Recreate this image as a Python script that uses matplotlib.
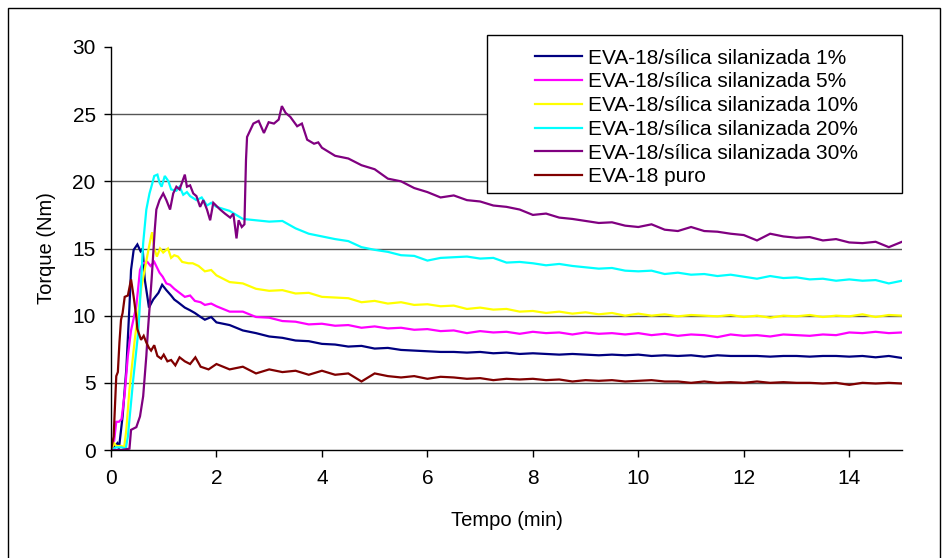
import numpy as np
import matplotlib
matplotlib.use("Agg")
import matplotlib.pyplot as plt
from matplotlib.patches import Rectangle

plt.rcParams['font.family'] = ['Liberation Sans', 'DejaVu Sans']

# --- data (time in min, torque in Nm) ---
labels = ['EVA-18/sílica silanizada 1%', 'EVA-18/sílica silanizada 5%',
          'EVA-18/sílica silanizada 10%', 'EVA-18/sílica silanizada 20%',
          'EVA-18/sílica silanizada 30%', 'EVA-18 puro']
colors = ['#000080', '#FF00FF', '#FFFF00', '#00FFFF', '#800080', '#800000']

# first minutes, each series on its own time points
t_s1 = [0, 0.05, 0.12, 0.15, 0.22, 0.29, 0.35, 0.38, 0.43, 0.5,
        0.56, 0.6, 0.64, 0.69, 0.72, 0.8, 0.9, 0.97, 1.05, 1.14,
        1.2, 1.27, 1.4, 1.5, 1.59, 1.7, 1.78, 1.9,
        2.0, 2.25, 2.5, 2.75, 3.0, 3.25, 3.5, 3.75]
v_s1 = [0, 0.2, 0.5, 0.1, 2.5, 6.0, 10.7, 13.4, 14.9, 15.3,
        14.8, 15.0, 12.7, 11.4, 10.6, 11.2, 11.7, 12.3, 11.9, 11.5,
        11.2, 11.0, 10.6, 10.4, 10.2, 9.9, 9.7, 9.9,
        9.5, 9.3, 8.9, 8.7, 8.45, 8.35, 8.15, 8.1]

t_s5 = [0, 0.06, 0.1, 0.15, 0.2, 0.26, 0.32, 0.38, 0.43, 0.48,
        0.55, 0.6, 0.69, 0.75, 0.82, 0.92, 0.98, 1.05, 1.12, 1.2,
        1.3, 1.4, 1.5, 1.59, 1.7, 1.78, 1.9,
        2.0, 2.25, 2.5, 2.75, 3.0, 3.25, 3.5, 3.75]
v_s5 = [0, 0.7, 2.1, 2.1, 2.3, 4.2, 7.0, 8.9, 9.8, 10.7,
        13.4, 13.9, 14.0, 13.7, 14.0, 13.2, 12.9, 12.4, 12.3, 12.0,
        11.7, 11.4, 11.5, 11.1, 11.0, 10.8, 10.9,
        10.7, 10.3, 10.3, 9.9, 9.85, 9.6, 9.55, 9.35]

t_s10 = [0, 0.06, 0.1, 0.2, 0.25, 0.29, 0.35, 0.45, 0.58, 0.7,
         0.76, 0.78, 0.82, 0.87, 0.93, 0.99, 1.08, 1.14, 1.2, 1.27,
         1.35, 1.47, 1.55, 1.66, 1.78, 1.9,
         2.0, 2.25, 2.5, 2.75, 3.0, 3.25, 3.5, 3.75]
v_s10 = [0, 0.5, 0.3, 0.3, 0.2, 1.5, 4.5, 8.2, 12.2, 14.7,
         15.9, 16.2, 15.0, 14.4, 15.0, 14.7, 15.0, 14.3, 14.5, 14.4,
         14.0, 13.9, 13.9, 13.7, 13.3, 13.4,
         13.0, 12.5, 12.4, 12.0, 11.85, 11.9, 11.65, 11.7]

t_s20 = [0, 0.1, 0.2, 0.28, 0.32, 0.42, 0.52, 0.58, 0.61, 0.67,
         0.73, 0.78, 0.82, 0.88, 0.92, 0.96, 1.02, 1.09, 1.14, 1.24,
         1.3, 1.37, 1.44, 1.5, 1.62, 1.72, 1.82, 1.9,
         2.0, 2.25, 2.5, 2.75, 3.0, 3.25, 3.5, 3.75]
v_s20 = [0, 0.2, 0.2, 0.1, 1.0, 5.2, 8.9, 13.2, 15.4, 17.9,
         19.1, 19.8, 20.4, 20.5, 19.9, 19.6, 20.4, 20.0, 19.4, 19.3,
         19.6, 19.0, 19.2, 18.9, 18.6, 18.8, 18.2, 18.4,
         18.1, 17.8, 17.2, 17.1, 17.0, 17.05, 16.5, 16.1]

t_s30 = [0, 0.2, 0.35, 0.38, 0.48, 0.55, 0.61, 0.67, 0.7, 0.77,
         0.83, 0.86, 0.92, 0.99, 1.05, 1.12, 1.18, 1.24, 1.3, 1.4,
         1.44, 1.5, 1.56, 1.62, 1.69, 1.75, 1.82, 1.88, 1.94,
         2.07, 2.16, 2.26, 2.32, 2.38, 2.42, 2.48, 2.53, 2.56, 2.58,
         2.64, 2.7, 2.8, 2.9, 2.99, 3.09, 3.18, 3.24, 3.31, 3.4,
         3.53, 3.62, 3.72, 3.85, 3.93]
v_s30 = [0, 0, 0.1, 1.5, 1.7, 2.5, 4.0, 7.0, 8.9, 12.7,
         16.4, 17.9, 18.6, 19.1, 18.6, 17.9, 19.1, 19.6, 19.4, 20.5,
         19.6, 19.7, 19.1, 18.9, 18.1, 18.6, 17.9, 17.1, 18.4,
         17.9, 17.6, 17.3, 17.6, 15.75, 17.1, 16.6, 16.8, 21.6, 23.3,
         23.8, 24.3, 24.5, 23.6, 24.4, 24.3, 24.6, 25.6, 25.1, 24.8,
         24.1, 24.3, 23.1, 22.8, 22.9]

t_puro = [0, 0.05, 0.1, 0.13, 0.16, 0.19, 0.22, 0.26, 0.32, 0.38,
          0.43, 0.48, 0.5, 0.57, 0.62, 0.67, 0.72, 0.76, 0.82, 0.88,
          0.95, 1.0, 1.07, 1.14, 1.22, 1.3, 1.4, 1.5, 1.6, 1.7,
          1.85, 2.0, 2.25, 2.5, 2.75, 3.0, 3.25, 3.5, 3.75]
v_puro = [0, 1.0, 5.5, 5.8, 8.0, 9.7, 10.2, 11.4, 11.5, 12.7,
          11.4, 9.9, 9.0, 8.2, 8.5, 8.0, 7.6, 7.4, 7.8, 7.0,
          6.8, 7.1, 6.6, 6.7, 6.3, 6.9, 6.6, 6.4, 6.9, 6.2,
          6.0, 6.4, 6.0, 6.2, 5.7, 6.0, 5.8, 5.9, 5.6]

# from 4 min on, all series share the same time points
t_tail = [4.0, 4.25, 4.5, 4.75, 5.0, 5.25, 5.5, 5.75, 6.0,
          6.25, 6.5, 6.75, 7.0, 7.25, 7.5, 7.75, 8.0, 8.25,
          8.5, 8.75, 9.0, 9.25, 9.5, 9.75, 10.0, 10.25, 10.5,
          10.75, 11.0, 11.25, 11.5, 11.75, 12.0, 12.25, 12.5, 12.75,
          13.0, 13.25, 13.5, 13.75, 14.0, 14.25, 14.5, 14.75, 15.0]
tail_s1 = [7.9, 7.85, 7.7, 7.75, 7.55, 7.6, 7.45, 7.4, 7.35,
           7.3, 7.3, 7.25, 7.3, 7.2, 7.25, 7.15, 7.2, 7.15,
           7.1, 7.15, 7.1, 7.05, 7.1, 7.05, 7.1, 7.0, 7.05,
           7.0, 7.05, 6.95, 7.05, 7.0, 7.0, 7.0, 6.95, 7.0,
           7.0, 6.95, 7.0, 7.0, 6.95, 7.0, 6.9, 7.0, 6.85]
tail_s5 = [9.4, 9.25, 9.3, 9.1, 9.2, 9.05, 9.1, 8.95, 9.0,
           8.85, 8.9, 8.7, 8.85, 8.75, 8.8, 8.65, 8.8, 8.7,
           8.75, 8.6, 8.75, 8.65, 8.7, 8.6, 8.7, 8.55, 8.65,
           8.5, 8.6, 8.55, 8.4, 8.6, 8.5, 8.55, 8.45, 8.6,
           8.55, 8.5, 8.6, 8.55, 8.75, 8.7, 8.8, 8.7, 8.75]
tail_s10 = [11.4, 11.35, 11.3, 11.0, 11.1, 10.9, 11.0, 10.8, 10.85,
            10.7, 10.75, 10.5, 10.6, 10.45, 10.5, 10.3, 10.35, 10.2,
            10.3, 10.15, 10.25, 10.1, 10.2, 10.0, 10.15, 10.0, 10.1,
            9.95, 10.05, 10.0, 9.95, 10.05, 9.9, 10.0, 9.85, 10.0,
            9.95, 10.05, 9.9, 10.0, 9.95, 10.1, 9.9, 10.05, 10.0]
tail_s20 = [15.9, 15.7, 15.55, 15.1, 14.9, 14.75, 14.5, 14.45, 14.1,
            14.3, 14.35, 14.4, 14.25, 14.3, 13.95, 14.0, 13.9, 13.75,
            13.85, 13.7, 13.6, 13.5, 13.55, 13.35, 13.3, 13.35, 13.1,
            13.2, 13.05, 13.1, 12.95, 13.05, 12.9, 12.75, 12.95, 12.8,
            12.85, 12.7, 12.75, 12.6, 12.7, 12.6, 12.65, 12.4, 12.6]
tail_s30 = [22.5, 21.9, 21.7, 21.2, 20.9, 20.2, 20.0, 19.5, 19.2,
            18.8, 18.95, 18.6, 18.5, 18.2, 18.1, 17.9, 17.5, 17.6,
            17.3, 17.2, 17.05, 16.9, 16.95, 16.7, 16.6, 16.8, 16.4,
            16.3, 16.6, 16.3, 16.25, 16.1, 16.0, 15.6, 16.1, 15.9,
            15.8, 15.85, 15.6, 15.7, 15.45, 15.4, 15.5, 15.1, 15.5]
tail_puro = [5.9, 5.6, 5.7, 5.1, 5.7, 5.5, 5.4, 5.5, 5.3,
             5.45, 5.4, 5.3, 5.35, 5.2, 5.3, 5.25, 5.3, 5.2,
             5.25, 5.1, 5.2, 5.15, 5.2, 5.1, 5.15, 5.2, 5.1,
             5.1, 5.0, 5.1, 5.0, 5.05, 5.0, 5.1, 5.0, 5.05,
             5.0, 5.0, 4.95, 5.0, 4.85, 5.0, 4.95, 5.0, 4.95]

series = [(t_s1, v_s1, tail_s1), (t_s5, v_s5, tail_s5), (t_s10, v_s10, tail_s10),
          (t_s20, v_s20, tail_s20), (t_s30, v_s30, tail_s30), (t_puro, v_puro, tail_puro)]

fig = plt.figure(figsize=(9.48, 5.58), dpi=100)
ax = fig.add_axes([111 / 948, 1 - 450 / 558, 791 / 948, 403 / 558])

handles = []
for (t, v, tail), lab, col in zip(series, labels, colors):
    x = np.concatenate([t, t_tail])
    y = np.concatenate([v, tail])
    h, = ax.plot(x, y, color=col, lw=1.6, label=lab, solid_joinstyle='miter')
    handles.append(h)

ax.set_xlim(0, 15)
ax.set_ylim(0, 30)
ax.set_xticks(range(0, 15, 2))
ax.set_yticks(range(0, 31, 5))
ax.tick_params(direction='out', length=5, width=1, labelsize=15, color='black')
ax.tick_params(axis='x', pad=9)
ax.tick_params(axis='y', pad=6)

ax.yaxis.grid(True, color='#555555', lw=1)
ax.set_axisbelow(True)
ax.get_ygridlines()[-1].set_visible(False)
ax.get_ygridlines()[0].set_visible(False)
for s in ['top', 'right']:
    ax.spines[s].set_visible(False)
for s in ['left', 'bottom']:
    ax.spines[s].set_color('black')
    ax.spines[s].set_linewidth(1)

ax.set_xlabel('Tempo (min)', fontsize=14.5)
ax.set_ylabel('Torque (Nm)', fontsize=14.5)
ax.xaxis.label.set_va('center')
ax.yaxis.label.set_va('center')
ax.xaxis.set_label_coords(0.5, (450 - 520) / 403)
ax.yaxis.set_label_coords((47 - 111) / 791, 0.5)

# legend box drawn separately to keep the wide left margin
fig.add_artist(Rectangle((487 / 948, 1 - 193 / 558), 415 / 948, 158 / 558,
                         transform=fig.transFigure, facecolor='white',
                         edgecolor='black', lw=1, zorder=5))
leg = fig.legend(handles=handles, loc='upper left',
                 bbox_to_anchor=(535 / 948, 1 - 48.5 / 558),
                 frameon=False, fontsize=15,
                 borderpad=0, borderaxespad=0, handlelength=2.25,
                 handletextpad=0.3, labelspacing=0.23)
leg.set_zorder(6)

# outer chart border
fig.add_artist(Rectangle((8 / 948, -0.02), 932 / 948, 1.02 - 8 / 558,
                         transform=fig.transFigure, fill=False,
                         edgecolor='black', lw=1, zorder=10))

fig.savefig('out.png', dpi=100)
